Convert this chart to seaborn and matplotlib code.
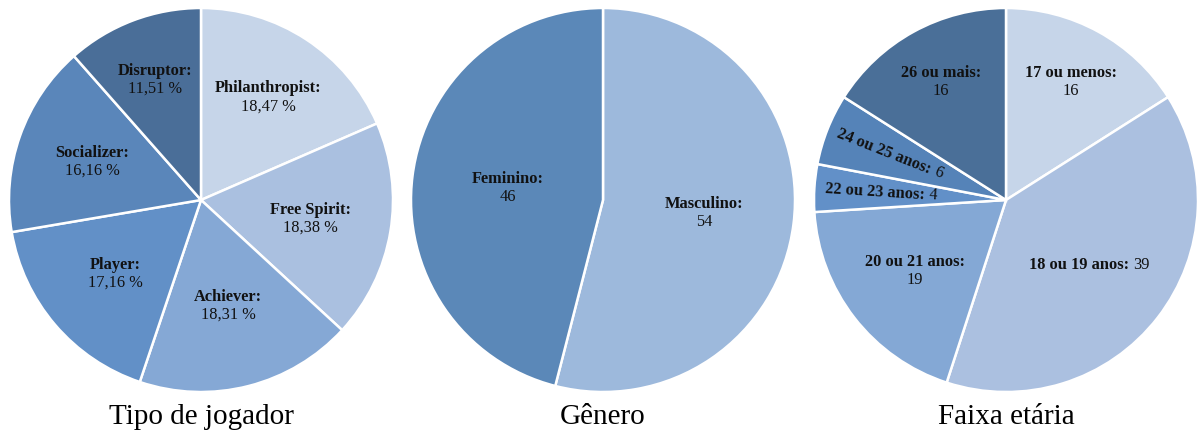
import numpy as np
import matplotlib
matplotlib.use("Agg")
import matplotlib.pyplot as plt
import seaborn as sns

# --- data -------------------------------------------------------------
tipos = ["Philanthropist", "Free Spirit", "Achiever", "Player", "Socializer", "Disruptor"]
tipos_pct = [18.47, 18.38, 18.31, 17.16, 16.16, 11.51]

generos = ["Masculino", "Feminino"]
generos_n = [54, 46]

faixas = ["17 ou menos", "18 ou 19 anos", "20 ou 21 anos", "22 ou 23 anos", "24 ou 25 anos", "26 ou mais"]
faixas_n = [16, 39, 19, 4, 6, 16]

titulos = ["Tipo de jogador", "Gênero", "Faixa etária"]

# --- style ------------------------------------------------------------
sns.set_theme(style="white")
plt.rcParams["font.family"] = ["Liberation Serif", "DejaVu Serif"]

cores_tipos = ["#c6d5e9", "#aac0e0", "#85a8d5", "#6290c7", "#5a86ba", "#4a6e98"]
cores_gen = ["#9db9dc", "#5b88b8"]
cores_faixa = ["#c6d5e9", "#abc0e0", "#84a8d5", "#6290c8", "#5583b8", "#4a6f98"]

W, H = 1199, 434
fig = plt.figure(figsize=(W / 100, H / 100), dpi=100)
fig.patch.set_facecolor("white")

centros = [(201, 200), (603, 200), (1006, 200)]
raio = 192
pad = 1.03

FS = 11.8
COR_TXT = "#111111"


def make_ax(cx, cy):
    rr = raio * pad
    ax = fig.add_axes([(cx - rr) / W, (H - cy - rr) / H, 2 * rr / W, 2 * rr / H])
    return ax


def fmt_pct(v):
    return f"{v:.2f}".replace(".", ",") + " %"


def draw_pie(ax, valores, nomes, textos, cores, dists, uma_linha, rotaciona):
    wedges, _ = ax.pie(valores, colors=cores, startangle=90, counterclock=False,
                       wedgeprops=dict(edgecolor="white", linewidth=1.8))
    ax.set_xlim(-pad, pad)
    ax.set_ylim(-pad, pad)
    ax.set_aspect("equal")
    ax.axis("off")
    renderer = fig.canvas.get_renderer()
    for w, nome, txt, d, one, rot in zip(wedges, nomes, textos, dists, uma_linha, rotaciona):
        ang = np.deg2rad((w.theta1 + w.theta2) / 2)
        x, y = d * np.cos(ang), d * np.sin(ang)
        if not one:
            ax.text(x, y + 0.005, nome + ":", ha="center", va="bottom", fontsize=FS,
                    fontweight="bold", color=COR_TXT)
            ax.text(x, y - 0.005, txt, ha="center", va="top", fontsize=FS, color=COR_TXT)
        else:
            r_deg = np.rad2deg(ang) - 180 if rot else 0
            tb = ax.text(0, 0, nome + ":", fontsize=FS, fontweight="bold", color=COR_TXT,
                         ha="left", va="center", rotation_mode="anchor")
            tv = ax.text(0, 0, txt, fontsize=FS, color=COR_TXT,
                         ha="left", va="center", rotation_mode="anchor")
            wb = tb.get_window_extent(renderer).width
            wv = tv.get_window_extent(renderer).width
            tb.set_rotation(r_deg)
            tv.set_rotation(r_deg)
            gap = 4.0
            total = wb + gap + wv
            dvec = np.array([np.cos(np.deg2rad(r_deg)), np.sin(np.deg2rad(r_deg))])
            c = ax.transData.transform((x, y))
            p0 = c - dvec * total / 2
            p1 = p0 + dvec * (wb + gap)
            inv = ax.transData.inverted()
            tb.set_position(inv.transform(p0))
            tv.set_position(inv.transform(p1))


# pie 1 - tipo de jogador
ax1 = make_ax(*centros[0])
draw_pie(ax1, tipos_pct, tipos, [fmt_pct(v) for v in tipos_pct], cores_tipos,
         [0.64, 0.58, 0.57, 0.59, 0.6, 0.67], [False] * 6, [False] * 6)

# pie 2 - genero
ax2 = make_ax(*centros[1])
draw_pie(ax2, generos_n, generos, [str(v) for v in generos_n], cores_gen,
         [0.53, 0.5], [False, False], [False, False])

# pie 3 - faixa etaria
ax3 = make_ax(*centros[2])
draw_pie(ax3, faixas_n, faixas, [str(v) for v in faixas_n], cores_faixa,
         [0.7, 0.55, 0.6, 0.65, 0.65, 0.7],
         [False, True, False, True, True, False],
         [False, False, False, True, True, False])

for (cx, _), t in zip(centros, titulos):
    fig.text(cx / W, (H - 417) / H, t, ha="center", va="center", fontsize=21, color="black")

fig.savefig("out.png", dpi=100, facecolor="white")
